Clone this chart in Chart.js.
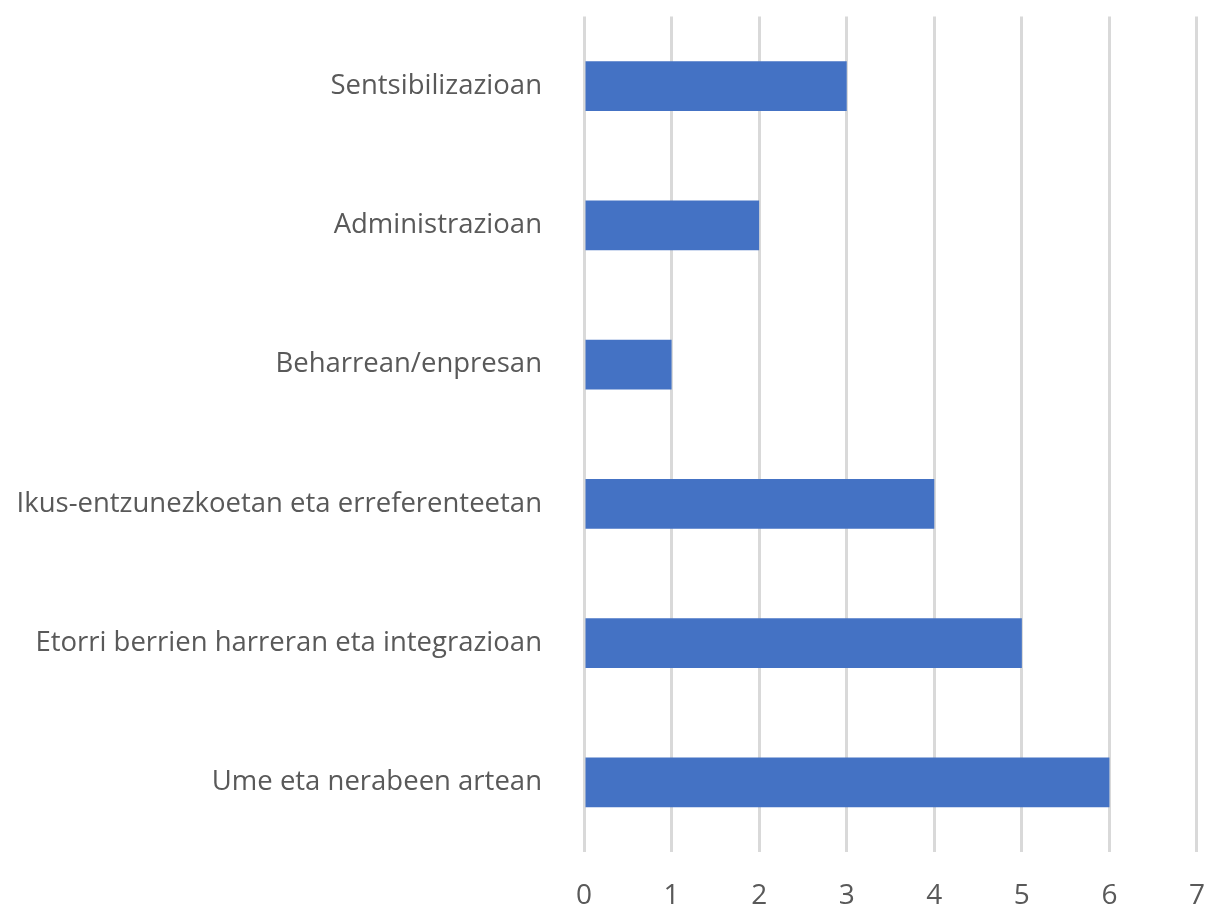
<!DOCTYPE html>
<html>
<head>
<meta charset="utf-8">
<script src="https://cdn.jsdelivr.net/npm/chart.js@4/dist/chart.umd.min.js"></script>
<style>
  html, body { margin: 0; padding: 0; background: #fff; }
  #wrap { width: 1205px; height: 905px; }
</style>
</head>
<body>
<div id="wrap"><canvas id="myChart"></canvas></div>
<script>
var categories = [
    "Sentsibilizazioan",
    "Administrazioan",
    "Beharrean/enpresan",
    "Ikus-entzunezkoetan eta erreferenteetan",
    "Etorri berrien harreran eta integrazioan",
    "Ume eta nerabeen artean"
];
var values = [3, 2, 1, 4, 5, 6];
var xMin = 0;
var xMax = 7;

var ctx = document.getElementById("myChart");
var myChart = new Chart(ctx, {
    type: "bar",
    data: {
        labels: categories,
        datasets: [
            {
                data: values,
                backgroundColor: "#4472C4",
                borderWidth: 0,
                barPercentage: 0.357,
                categoryPercentage: 1,
            },
        ],
    },
    options: {
        indexAxis: "y",
        responsive: true,
        maintainAspectRatio: false,
        animation: false,
        layout: { padding: { top: 10, right: 0, left: 0, bottom: 0 } },
        plugins: {
            legend: { display: false },
            tooltip: { enabled: false },
        },
        scales: {
            x: {
                min: xMin,
                max: xMax,
                ticks: {
                    stepSize: 1,
                    color: "#595959",
                    padding: 0,
                    font: { family: "Open Sans", size: 28 },
                },
                grid: {
                    color: "#D9D9D9",
                    lineWidth: 3,
                    drawTicks: true,
                    tickLength: 27,
                    tickColor: "rgba(0,0,0,0)",
                },
                border: { display: false },
                afterFit: function (scale) { scale.height = 53; },
            },
            y: {
                ticks: {
                    color: "#595959",
                    padding: 0,
                    font: { family: "Open Sans", size: 27.5 },
                },
                grid: {
                    color: "rgba(0,0,0,0)",
                    drawTicks: true,
                    tickLength: 42,
                    tickColor: "rgba(0,0,0,0)",
                },
                border: { display: false },
                afterFit: function (scale) { scale.width = 584; },
            },
        },
    },
});
</script>
</body>
</html>
